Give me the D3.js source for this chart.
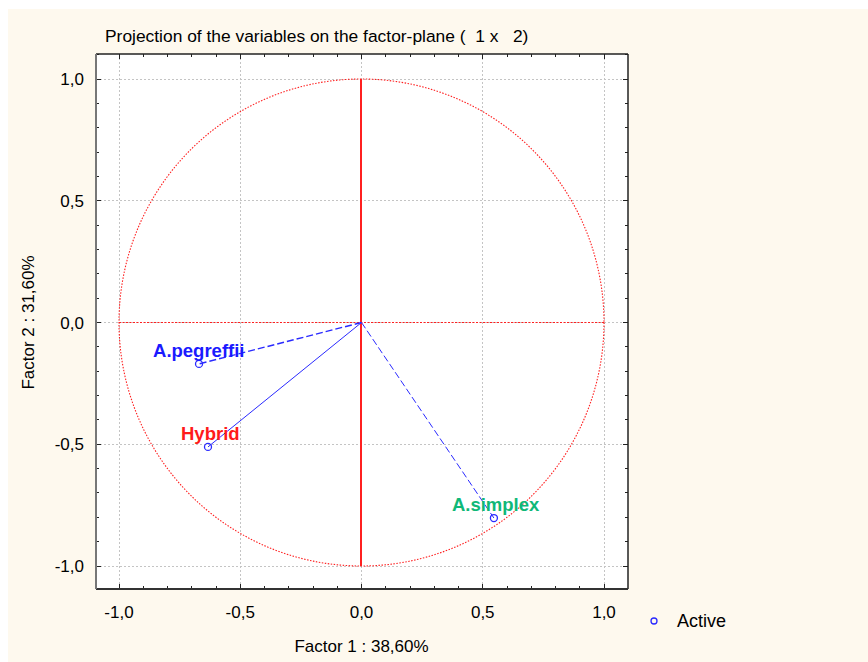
<!DOCTYPE html>
<html>
<head>
<meta charset="utf-8">
<script src="https://cdn.jsdelivr.net/npm/d3@7"></script>
<style>
  body { margin: 0; background: #fff; }
  text { font-family: "Liberation Sans", Arial, sans-serif; }
</style>
</head>
<body>
<div id="chart"></div>
<script>
// variables and their coordinates on factor 1 / factor 2
var names = ["A.pegreffii", "Hybrid", "A.simplex"]
var factor1 = [-0.67, -0.633, 0.546]
var factor2 = [-0.17, -0.511, -0.803]
var labelColors = ["#1a1aff", "#ff1a1a", "#10b878"]
var lineDash = ["7,3", null, "7,3"]

var majorTicks = [-1.0, -0.5, 0.0, 0.5, 1.0]
var minorTicks = d3.range(-11, 12).map(function(i) { return i / 10 })

var width = 868,
    height = 662

var svg = d3.select("#chart")
  .append("svg")
    .attr("width", width)
    .attr("height", height)

// cream background panel
svg.append("rect")
  .attr("x", 8).attr("y", 9)
  .attr("width", width - 8).attr("height", height - 9)
  .attr("fill", "#fef9ee")

var box = {left: 96, right: 628, top: 54, bottom: 589}

var x = d3.scaleLinear().domain([-1, 1]).range([119, 604])
var y = d3.scaleLinear().domain([-1, 1]).range([566, 79])

svg.append("rect")
  .attr("x", box.left).attr("y", box.top)
  .attr("width", box.right - box.left).attr("height", box.bottom - box.top)
  .attr("fill", "white")

var fmt = function(d) { return d3.format(".1f")(d).replace(".", ",").replace("−", "-") }

// grid lines
var grid = svg.append("g").attr("shape-rendering", "crispEdges")
grid.selectAll(".gx").data(majorTicks).enter().append("line")
  .attr("x1", function(d) { return x(d) }).attr("x2", function(d) { return x(d) })
  .attr("y1", box.top).attr("y2", box.bottom)
  .attr("stroke", "#c4c4c4").attr("stroke-dasharray", "2,2")
grid.selectAll(".gy").data(majorTicks).enter().append("line")
  .attr("y1", function(d) { return y(d) }).attr("y2", function(d) { return y(d) })
  .attr("x1", box.left).attr("x2", box.right)
  .attr("stroke", "#c4c4c4").attr("stroke-dasharray", "2,2")

// unit circle and red axes through origin
svg.append("ellipse")
  .attr("cx", x(0)).attr("cy", y(0))
  .attr("rx", x(1) - x(0)).attr("ry", y(0) - y(1))
  .attr("fill", "none").attr("stroke", "#ff2020")
  .attr("stroke-width", 1.1).attr("stroke-dasharray", "1.5,1.5")
svg.append("line")
  .attr("x1", x(-1)).attr("x2", x(1)).attr("y1", y(0)).attr("y2", y(0))
  .attr("stroke", "#ff2020").attr("stroke-width", 1.2).attr("stroke-dasharray", "2,1.5")
svg.append("line")
  .attr("x1", Math.floor(x(0))).attr("x2", Math.floor(x(0)))
  .attr("y1", y(1)).attr("y2", y(-1))
  .attr("shape-rendering", "crispEdges")
  .style("stroke", "#ff2020").style("stroke-width", 2)

// ticks pointing inward
var ticks = svg.append("g").attr("stroke", "#222").attr("shape-rendering", "crispEdges")
minorTicks.forEach(function(t) {
  var len = majorTicks.indexOf(t) >= 0 ? 5 : 3
  if (x(t) > box.left && x(t) < box.right) {
    ticks.append("line").attr("x1", x(t)).attr("x2", x(t)).attr("y1", box.bottom).attr("y2", box.bottom - len)
    ticks.append("line").attr("x1", x(t)).attr("x2", x(t)).attr("y1", box.top).attr("y2", box.top + len)
  }
  if (y(t) > box.top && y(t) < box.bottom) {
    ticks.append("line").attr("y1", y(t)).attr("y2", y(t)).attr("x1", box.left).attr("x2", box.left + len)
    ticks.append("line").attr("y1", y(t)).attr("y2", y(t)).attr("x1", box.right).attr("x2", box.right - len)
  }
})

// frame
svg.append("line").attr("x1", box.left).attr("x2", box.right).attr("y1", box.top).attr("y2", box.top)
  .attr("stroke", "#222").attr("stroke-width", 1.5)
svg.append("line").attr("x1", box.right).attr("x2", box.right).attr("y1", box.top).attr("y2", box.bottom)
  .attr("stroke", "#222").attr("stroke-width", 1.5)
svg.append("line").attr("x1", box.left).attr("x2", box.right).attr("y1", box.bottom).attr("y2", box.bottom)
  .attr("stroke", "#333").attr("stroke-width", 2)
svg.append("line").attr("x1", box.left).attr("x2", box.left).attr("y1", box.top).attr("y2", box.bottom)
  .attr("stroke", "#777").attr("stroke-width", 2)

// tick labels
svg.selectAll(".xl").data(majorTicks).enter().append("text")
  .attr("x", function(d) { return x(d) }).attr("y", 618)
  .attr("text-anchor", "middle").attr("font-size", 17)
  .text(fmt)
svg.selectAll(".yl").data(majorTicks).enter().append("text")
  .attr("x", 84).attr("y", function(d) { return y(d) + 6 })
  .attr("text-anchor", "end").attr("font-size", 17)
  .text(fmt)

// lines from origin to variables
svg.selectAll(".vec").data(names).enter().append("line")
  .attr("x1", x(0)).attr("y1", y(0))
  .attr("x2", function(d, i) { return x(factor1[i]) })
  .attr("y2", function(d, i) { return y(factor2[i]) })
  .attr("stroke", "#2a2aff").attr("stroke-width", function(d, i) { return i == 0 ? 1.4 : 1 })
  .attr("stroke-dasharray", function(d, i) { return lineDash[i] })

svg.selectAll(".pt").data(names).enter().append("circle")
  .attr("cx", function(d, i) { return x(factor1[i]) })
  .attr("cy", function(d, i) { return y(factor2[i]) })
  .attr("r", 3.5)
  .attr("fill", "none").attr("stroke", "#2a2aff").attr("stroke-width", 1.3)

svg.selectAll(".lab").data(names).enter().append("text")
  .attr("x", function(d, i) { return x(factor1[i]) - [46, 27, 42][i] })
  .attr("y", function(d, i) { return y(factor2[i]) - 7 })
  .attr("font-size", 18.5).attr("font-weight", "bold")
  .attr("fill", function(d, i) { return labelColors[i] })
  .text(function(d) { return d })

// titles
svg.append("text").attr("x", 105).attr("y", 42).attr("font-size", 17.4)
  .style("white-space", "pre")
  .text("Projection of the variables on the factor-plane (  1 x   2)")
svg.append("text").attr("x", x(0)).attr("y", 652).attr("text-anchor", "middle").attr("font-size", 17)
  .text("Factor 1 : 38,60%")
svg.append("text")
  .attr("transform", "translate(34," + y(0) + ") rotate(-90)")
  .attr("text-anchor", "middle").attr("font-size", 17)
  .text("Factor 2 : 31,60%")

// legend
svg.append("circle").attr("cx", 654).attr("cy", 621).attr("r", 3)
  .attr("fill", "none").attr("stroke", "#2a2aff").attr("stroke-width", 1.3)
svg.append("text").attr("x", 677).attr("y", 627).attr("font-size", 18).text("Active")
</script>
</body>
</html>
